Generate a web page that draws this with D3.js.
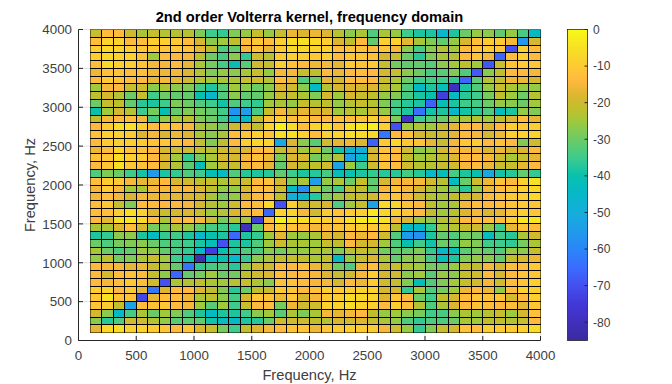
<!DOCTYPE html>
<html>
<head>
<meta charset="utf-8">
<script src="https://cdnjs.cloudflare.com/ajax/libs/d3/7.8.5/d3.min.js"></script>
<style>
  html, body { margin: 0; padding: 0; background: #fff; }
  svg { display: block; }
  text { font-family: "Liberation Sans", Arial, sans-serif; fill: #404040; }
</style>
</head>
<body>
<div id="chart"></div>
<script>
// bin edges in Hz, cells run between neighbours
const freqEdges = [100, 200, 300, 400, 500, 600, 700, 800, 900, 1000, 1100, 1200, 1300, 1400, 1500, 1600, 1700, 1800, 1900, 2000,
  2100, 2200, 2300, 2400, 2500, 2600, 2700, 2800, 2900, 3000, 3100, 3200, 3300, 3400, 3500, 3600, 3700, 3800, 3900, 4000];
const axisTicks = [0, 500, 1000, 1500, 2000, 2500, 3000, 3500, 4000];
const colorbarTicks = [0, -10, -20, -30, -40, -50, -60, -70, -80];
// colormap sampled from the colorbar
const colorLevels = [-85, -80, -75, -70, -65, -60, -55, -50, -45, -40, -35, -30, -25, -22, -18, -14, -10, -6, -2, 0];
const colorValues = ["#3a2a9f", "#4030bb", "#4238d8", "#4450f0", "#3a6cff", "#2a86f8", "#209bea", "#14aedb", "#06b8c8", "#08c0ae",
  "#3ecb8c", "#6ccb66", "#a0c93c", "#bfbf2e", "#dcb630", "#ffb93e", "#fdca33", "#f8dc26", "#f7ef1c", "#f9fb15"];

// dB values, top row (3900-4000 Hz) first
const kernelDb = [
  [-21,-13,-13,-20,-24,-21,-23,-23,-23,-28,-35,-36,-28,-26,-21,-26,-21,-16,-18,-16,-18,-23,-27,-24,-33,-24,-26,-35,-38,-38,-46,-38,-30,-26,-27,-31,-26,-34,-44],
  [-13,-8,-8,-14,-13,-9,-9,-10,-13,-19,-27,-25,-22,-13,-11,-13,-9,-6,-5,-7,-9,-18,-22,-14,-31,-9,-8,-17,-24,-28,-31,-26,-19,-13,-10,-10,-15,-56,-19],
  [-9,-7,-8,-9,-11,-10,-11,-10,-12,-17,-22,-33,-31,-15,-12,-17,-10,-7,-7,-8,-9,-13,-12,-12,-13,-11,-15,-27,-34,-27,-23,-25,-14,-12,-10,-11,-70,-9,-13],
  [-9,-7,-8,-8,-12,-25,-13,-14,-15,-22,-30,-34,-27,-36,-20,-23,-10,-9,-9,-10,-9,-14,-11,-11,-12,-19,-21,-30,-37,-28,-24,-23,-14,-12,-15,-66,-13,-9,-13],
  [-13,-7,-9,-9,-12,-15,-15,-14,-17,-24,-29,-34,-41,-32,-20,-21,-9,-12,-14,-16,-15,-17,-10,-12,-10,-21,-29,-31,-31,-32,-27,-25,-22,-25,-69,-21,-12,-10,-11],
  [-16,-13,-12,-13,-13,-16,-16,-15,-18,-23,-28,-26,-27,-24,-21,-26,-15,-15,-21,-22,-14,-16,-14,-13,-14,-19,-21,-27,-30,-34,-32,-28,-33,-68,-27,-22,-14,-14,-15],
  [-14,-10,-12,-13,-14,-17,-15,-17,-20,-23,-25,-24,-24,-21,-20,-23,-13,-16,-33,-30,-17,-19,-13,-13,-14,-21,-24,-30,-35,-34,-35,-36,-66,-32,-23,-21,-16,-16,-19],
  [-25,-15,-14,-21,-20,-27,-24,-27,-28,-34,-38,-32,-25,-27,-30,-27,-18,-20,-27,-44,-23,-19,-18,-19,-18,-22,-24,-33,-44,-38,-42,-80,-38,-33,-26,-21,-24,-26,-26],
  [-22,-19,-23,-30,-21,-35,-30,-31,-31,-40,-46,-33,-27,-31,-31,-26,-21,-21,-24,-28,-19,-25,-19,-21,-22,-26,-28,-34,-38,-40,-74,-44,-37,-35,-29,-22,-25,-30,-23],
  [-30,-21,-22,-31,-37,-38,-35,-28,-30,-33,-35,-39,-33,-35,-36,-25,-24,-26,-21,-23,-22,-26,-23,-21,-23,-28,-34,-37,-38,-67,-41,-38,-35,-34,-30,-26,-27,-30,-25],
  [-40,-25,-19,-23,-35,-29,-41,-31,-28,-29,-31,-35,-57,-54,-34,-21,-15,-20,-17,-18,-18,-25,-23,-24,-20,-26,-35,-38,-64,-39,-38,-45,-39,-37,-33,-43,-38,-26,-28],
  [-22,-15,-14,-13,-15,-34,-26,-24,-22,-28,-30,-35,-46,-44,-22,-12,-9,-13,-11,-14,-14,-13,-13,-12,-9,-13,-28,-78,-35,-32,-30,-26,-24,-23,-25,-22,-18,-13,-17],
  [-14,-10,-6,-5,-9,-13,-12,-13,-15,-24,-26,-29,-20,-17,-22,-8,-2,-6,-13,-8,-7,-11,-5,-4,-2,-9,-70,-25,-24,-25,-21,-17,-13,-14,-18,-14,-9,-10,-9],
  [-12,-9,-9,-10,-18,-15,-18,-16,-18,-24,-27,-24,-13,-11,-9,-12,-5,-5,-9,-13,-9,-8,-6,-7,-7,-63,-14,-13,-19,-21,-20,-17,-14,-15,-19,-16,-9,-9,-8],
  [-14,-10,-9,-9,-10,-12,-11,-12,-14,-21,-28,-22,-14,-9,-8,-8,-51,-18,-27,-32,-20,-17,-16,-18,-67,-10,-7,-11,-12,-17,-21,-15,-11,-10,-14,-12,-14,-28,-20],
  [-16,-14,-8,-12,-12,-14,-19,-20,-20,-21,-23,-20,-19,-18,-14,-13,-21,-18,-25,-22,-30,-39,-46,-50,-19,-12,-13,-20,-27,-25,-20,-15,-15,-15,-18,-16,-19,-18,-14],
  [-12,-11,-6,-9,-10,-14,-18,-25,-36,-29,-24,-19,-19,-15,-12,-16,-28,-19,-19,-29,-27,-23,-53,-45,-19,-12,-14,-22,-25,-23,-22,-18,-14,-13,-15,-20,-24,-21,-17],
  [-14,-11,-5,-11,-12,-13,-19,-23,-32,-42,-25,-21,-21,-15,-14,-17,-31,-19,-22,-22,-20,-52,-25,-35,-20,-12,-13,-20,-23,-23,-21,-20,-15,-14,-16,-21,-21,-17,-14],
  [-33,-28,-30,-35,-39,-55,-38,-36,-33,-35,-41,-44,-33,-37,-38,-37,-31,-35,-38,-37,-34,-42,-40,-38,-36,-37,-37,-34,-37,-45,-42,-34,-38,-40,-52,-39,-37,-31,-36],
  [-13,-10,-10,-15,-17,-16,-14,-19,-20,-22,-21,-24,-21,-21,-14,-12,-19,-28,-24,-54,-26,-24,-30,-21,-31,-19,-15,-15,-15,-20,-23,-44,-30,-20,-16,-12,-14,-9,-5],
  [-15,-10,-15,-25,-24,-15,-15,-15,-15,-18,-22,-26,-26,-19,-13,-13,-20,-44,-58,-24,-30,-34,-22,-22,-31,-15,-12,-15,-19,-23,-25,-30,-37,-26,-16,-13,-11,-9,-7],
  [-15,-13,-15,-18,-15,-16,-16,-17,-18,-19,-24,-29,-26,-18,-14,-13,-22,-50,-46,-37,-28,-25,-22,-21,-20,-12,-12,-15,-20,-23,-24,-22,-20,-19,-14,-12,-10,-9,-7],
  [-13,-11,-21,-28,-13,-14,-14,-14,-15,-19,-23,-25,-20,-14,-13,-7,-70,-9,-20,-20,-19,-33,-25,-21,-53,-7,-8,-12,-14,-22,-25,-24,-15,-13,-14,-13,-11,-10,-11],
  [-13,-13,-9,-6,-9,-18,-21,-19,-18,-21,-25,-23,-18,-16,-13,-66,-8,-8,-15,-20,-10,-12,-10,-9,-3,-8,-9,-11,-14,-22,-25,-23,-18,-15,-18,-17,-12,-9,-11],
  [-14,-17,-6,-4,-7,-13,-24,-15,-13,-15,-20,-29,-24,-24,-74,-12,-2,-5,-6,-7,-9,-10,-5,-3,-2,-5,-15,-18,-25,-27,-23,-21,-14,-13,-13,-13,-9,-4,-4],
  [-24,-24,-18,-13,-19,-29,-28,-24,-26,-31,-34,-35,-37,-80,-30,-14,-9,-12,-13,-15,-13,-12,-10,-9,-10,-9,-22,-44,-45,-36,-25,-23,-21,-20,-26,-35,-17,-12,-13],
  [-38,-36,-27,-27,-38,-44,-36,-35,-38,-46,-40,-38,-66,-38,-36,-25,-17,-25,-26,-24,-17,-19,-14,-16,-14,-20,-33,-55,-57,-38,-31,-33,-29,-30,-43,-35,-37,-24,-20],
  [-30,-33,-29,-28,-27,-30,-33,-34,-35,-38,-41,-70,-38,-38,-33,-25,-20,-24,-24,-25,-21,-22,-14,-19,-19,-25,-33,-40,-35,-39,-30,-32,-26,-28,-35,-35,-36,-29,-24],
  [-24,-30,-33,-31,-25,-27,-31,-34,-36,-45,-74,-40,-37,-33,-34,-27,-29,-26,-26,-24,-24,-28,-23,-21,-23,-29,-31,-31,-28,-36,-45,-42,-32,-29,-31,-33,-26,-27,-21],
  [-26,-22,-29,-28,-24,-21,-25,-35,-39,-82,-44,-40,-45,-36,-27,-24,-22,-21,-22,-24,-22,-44,-26,-21,-18,-24,-31,-27,-27,-34,-42,-38,-28,-26,-27,-31,-22,-19,-16],
  [-14,-15,-15,-17,-16,-21,-24,-31,-63,-36,-34,-33,-37,-26,-20,-20,-13,-14,-12,-16,-20,-30,-33,-16,-13,-21,-21,-24,-25,-29,-29,-26,-21,-22,-15,-19,-13,-13,-10],
  [-14,-19,-13,-12,-13,-21,-27,-66,-31,-29,-25,-30,-29,-22,-20,-18,-13,-14,-14,-15,-18,-21,-20,-15,-10,-19,-20,-27,-25,-32,-26,-27,-21,-20,-14,-19,-14,-12,-11],
  [-14,-15,-13,-11,-13,-20,-70,-24,-23,-22,-24,-25,-23,-21,-24,-27,-12,-12,-14,-15,-15,-19,-14,-16,-10,-20,-21,-28,-41,-33,-28,-25,-21,-19,-15,-20,-13,-11,-9],
  [-9,-8,-14,-11,-17,-63,-18,-14,-14,-18,-22,-28,-37,-30,-22,-21,-10,-11,-14,-12,-9,-10,-9,-8,-8,-19,-19,-36,-24,-33,-29,-25,-16,-14,-16,-26,-13,-8,-9],
  [-11,-5,-12,-12,-72,-17,-13,-13,-16,-24,-22,-27,-34,-19,-11,-12,-16,-11,-19,-15,-10,-9,-6,-7,-8,-18,-11,-14,-30,-35,-22,-19,-13,-11,-12,-11,-19,-14,-9],
  [-11,-10,-21,-53,-13,-12,-11,-14,-15,-25,-32,-25,-35,-21,-14,-13,-29,-16,-20,-20,-8,-8,-6,-8,-9,-14,-9,-13,-23,-33,-24,-18,-14,-12,-13,-14,-13,-17,-11],
  [-19,-27,-45,-34,-24,-30,-25,-28,-33,-38,-44,-38,-38,-35,-27,-25,-32,-24,-28,-24,-15,-17,-15,-14,-22,-26,-25,-27,-29,-35,-34,-27,-24,-25,-23,-21,-25,-19,-12],
  [-27,-37,-33,-20,-20,-23,-26,-32,-31,-31,-39,-43,-44,-38,-37,-30,-20,-20,-20,-22,-23,-19,-20,-18,-21,-24,-26,-33,-36,-33,-33,-30,-24,-25,-22,-22,-23,-21,-14],
  [-17,-7,-6,-9,-8,-10,-11,-14,-11,-18,-21,-29,-35,-22,-18,-15,-14,-12,-11,-16,-11,-10,-9,-10,-10,-15,-20,-26,-36,-28,-21,-19,-12,-13,-9,-10,-10,-9,-6]
];

const width = 672;
const height = 384;
const plot = { left: 78.5, right: 540.5, top: 29.5, bottom: 340.5 };

const svg = d3.select("#chart").append("svg")
  .attr("width", width)
  .attr("height", height);

const x = d3.scaleLinear().domain([0, 4000]).range([plot.left, plot.right]);
const y = d3.scaleLinear().domain([0, 4000]).range([plot.bottom, plot.top]);

const color = d3.scaleLinear()
  .domain(colorLevels)
  .range(colorValues)
  .clamp(true);

// light grid goes under the cells, only its ends stay visible
svg.append("g").selectAll("line")
  .data(axisTicks)
  .enter()
  .append("line")
  .attr("x1", plot.left).attr("x2", plot.right)
  .attr("y1", d => y(d)).attr("y2", d => y(d))
  .attr("stroke", "#dfdfdf");
svg.append("g").selectAll("line")
  .data(axisTicks)
  .enter()
  .append("line")
  .attr("y1", plot.top).attr("y2", plot.bottom)
  .attr("x1", d => x(d)).attr("x2", d => x(d))
  .attr("stroke", "#dfdfdf");

const cells = svg.append("g");
const rows = freqEdges.slice(0, -1).reverse();
rows.forEach((rowFreq, r) => {
  cells.append("g").selectAll("rect")
    .data(kernelDb[r])
    .enter()
    .append("rect")
    .attr("x", (d, c) => x(freqEdges[c]))
    .attr("y", y(rowFreq + 100))
    .attr("width", (d, c) => x(freqEdges[c + 1]) - x(freqEdges[c]))
    .attr("height", y(rowFreq) - y(rowFreq + 100))
    .attr("fill", d => color(d))
    .attr("stroke", "none")
    .attr("shape-rendering", "crispEdges");
});

// edge lines on top, crisp inside and faded on the outer border
const gridX = x(100), gridY = y(4000);
cells.append("g").selectAll("line")
  .data(freqEdges)
  .enter()
  .append("line")
  .attr("x1", d => x(d)).attr("x2", d => x(d))
  .attr("y1", y(4000)).attr("y2", y(100))
  .attr("stroke", "#000")
  .attr("stroke-opacity", (d, i) => i === 0 || i === freqEdges.length - 1 ? 0.5 : 1)
  .attr("shape-rendering", "crispEdges");
cells.append("g").selectAll("line")
  .data(freqEdges)
  .enter()
  .append("line")
  .attr("y1", d => y(d)).attr("y2", d => y(d))
  .attr("x1", x(100)).attr("x2", x(4000))
  .attr("stroke", "#000")
  .attr("stroke-opacity", (d, i) => i === 0 || i === freqEdges.length - 1 ? 0.5 : 1)
  .attr("shape-rendering", "crispEdges");

// axes, ticks point inward like the original
const xAxis = svg.append("g")
  .attr("transform", `translate(0,${plot.bottom})`)
  .call(d3.axisBottom(x).tickValues(axisTicks).tickFormat(d3.format("d")).tickSizeInner(-4.5).tickSizeOuter(0).offset(0));
xAxis.selectAll("text").attr("y", 19.5).attr("dy", 0).style("font-size", "13.33px");

const yAxis = svg.append("g")
  .attr("transform", `translate(${plot.left},0)`)
  .call(d3.axisLeft(y).tickValues(axisTicks).tickFormat(d3.format("d")).tickSizeInner(-4.5).tickSizeOuter(0).offset(0));
yAxis.selectAll("text").attr("x", -6.5).attr("dy", "0.36em").style("font-size", "13.33px");

svg.selectAll(".domain").attr("stroke", "#262626");
svg.selectAll(".tick line").attr("stroke", "#262626");

svg.append("text")
  .attr("x", (x(0) + x(4000)) / 2)
  .attr("y", 22)
  .attr("text-anchor", "middle")
  .style("font-size", "14.67px")
  .style("font-weight", "bold")
  .style("fill", "#000")
  .text("2nd order Volterra kernel, frequency domain");

svg.append("text")
  .attr("x", (x(0) + x(4000)) / 2)
  .attr("y", 380)
  .attr("text-anchor", "middle")
  .style("font-size", "14.67px")
  .text("Frequency, Hz");

svg.append("text")
  .attr("transform", `translate(35,${(y(0) + y(4000)) / 2}) rotate(-90)`)
  .attr("text-anchor", "middle")
  .style("font-size", "14.67px")
  .text("Frequency, Hz");

// colorbar
const cbLeft = 567.5;
const cbWidth = 20;
const cbScale = d3.scaleLinear().domain([-85, 0]).range([plot.bottom, plot.top]);

const grad = svg.append("defs").append("linearGradient")
  .attr("id", "cbGradient")
  .attr("x1", 0).attr("x2", 0).attr("y1", 1).attr("y2", 0);
grad.selectAll("stop")
  .data(colorLevels)
  .enter()
  .append("stop")
  .attr("offset", d => (d + 85) / 85)
  .attr("stop-color", d => color(d));

svg.append("rect")
  .attr("x", cbLeft)
  .attr("y", cbScale(0))
  .attr("width", cbWidth)
  .attr("height", cbScale(-85) - cbScale(0))
  .attr("fill", "url(#cbGradient)")
  .attr("stroke", "#262626")
  .attr("stroke-width", 0.8);

const cbAxis = svg.append("g")
  .attr("transform", `translate(${cbLeft + cbWidth},0)`)
  .call(d3.axisRight(cbScale).tickValues(colorbarTicks).tickSizeInner(-3).tickSizeOuter(0).offset(0).tickFormat(d => d < 0 ? "-" + Math.abs(d) : d));
cbAxis.select(".domain").remove();
cbAxis.selectAll(".tick line").attr("stroke", "#262626");
cbAxis.selectAll("text").attr("x", 5.5).attr("dy", "0.36em").style("font-size", "12px");
</script>
</body>
</html>
